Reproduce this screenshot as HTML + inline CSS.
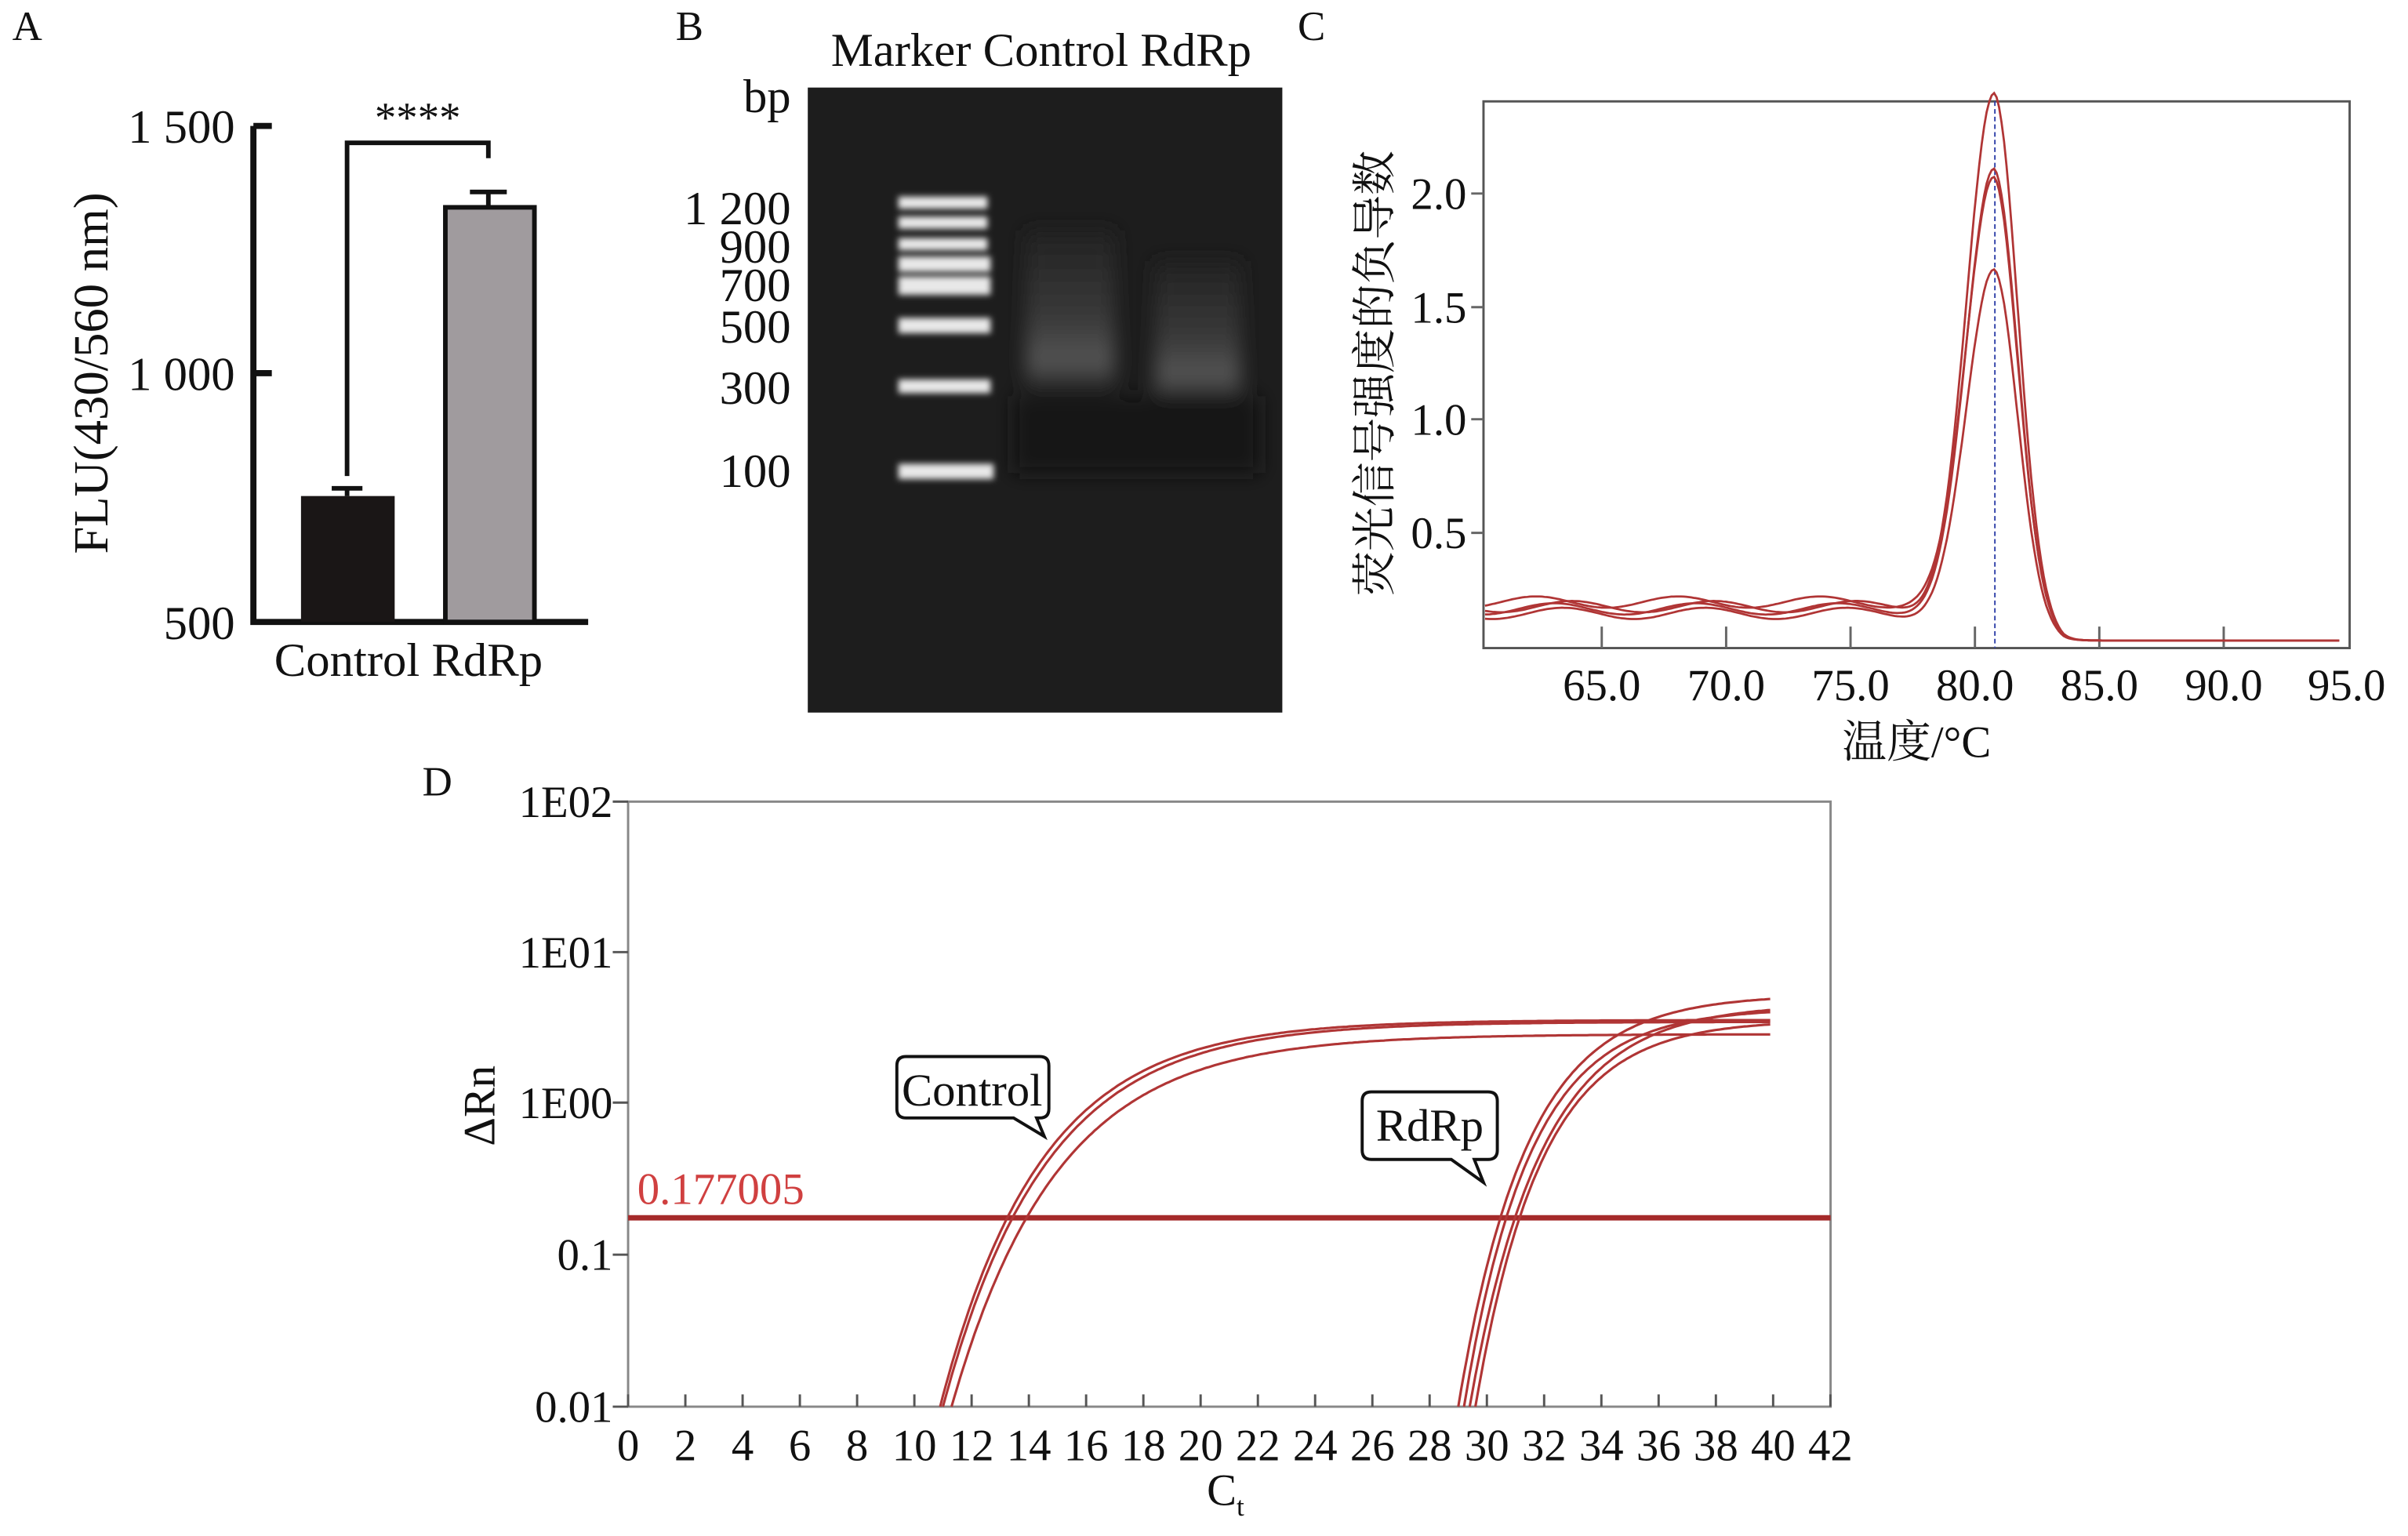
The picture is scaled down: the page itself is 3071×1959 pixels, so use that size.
<!DOCTYPE html>
<html><head><meta charset="utf-8"><style>
html,body{margin:0;padding:0;background:#fff}
svg{display:block}
text{font-family:"Liberation Serif","Noto Serif CJK SC",serif;fill:#111}
</style></head><body>
<svg id="s" width="3071" height="1959" viewBox="0 0 1568 1000.2" xmlns="http://www.w3.org/2000/svg">
<rect width="1568" height="1001" fill="#fff"/>
<defs>
<linearGradient id="sm" x1="0" y1="0" x2="0" y2="1">
<stop offset="0" stop-color="#222"/><stop offset="0.55" stop-color="#3a3a3a"/><stop offset="0.82" stop-color="#555"/><stop offset="1" stop-color="#1c1c1c"/>
</linearGradient>
<filter id="bl"><feGaussianBlur stdDeviation="2"/></filter>
<filter id="bl2"><feGaussianBlur stdDeviation="6"/></filter>
</defs>
<!-- Panel A -->
<text x="8" y="26" font-size="27">A</text>
<g stroke="#111" stroke-width="4" fill="none">
<path d="M165 82 V405 H383"/>
<path d="M165 82 h12 M165 243 h12"/>
</g>
<rect x="196" y="323" width="61" height="82" fill="#1a1616"/>
<path d="M226 323 V318 M216 318 h20" stroke="#111" stroke-width="3"/>
<rect x="290" y="135" width="58" height="270" fill="#a09b9e" stroke="#111" stroke-width="3"/>
<path d="M318 135 V125 M306 125 h24" stroke="#111" stroke-width="3"/>
<path d="M226 310 V93 H318 V103" stroke="#111" stroke-width="3" fill="none"/>
<text x="272" y="86" font-size="28" text-anchor="middle">****</text>
<g font-size="31" text-anchor="end"><text x="153" y="93">1 500</text>
<text x="153" y="254">1 000</text>
<text x="153" y="416">500</text></g>
<text x="266" y="440" font-size="31" text-anchor="middle">Control RdRp</text>
<text transform="translate(70,243) rotate(-90)" font-size="32" text-anchor="middle">FLU(430/560 nm)</text>
<!-- Panel B -->
<text x="440" y="26" font-size="27">B</text>
<text x="678" y="43" font-size="31" text-anchor="middle">Marker Control RdRp</text>
<text x="515" y="73" font-size="31" text-anchor="end">bp</text>
<g font-size="31" text-anchor="end">
<text x="515" y="146">1 200</text><text x="515" y="171">900</text><text x="515" y="196">700</text><text x="515" y="223">500</text><text x="515" y="263">300</text><text x="515" y="317">100</text>
</g>
<rect x="526" y="57" width="309" height="407" fill="#1d1d1d"/>
<g filter="url(#bl2)">
<rect x="668" y="150" width="58" height="105" fill="url(#sm)"/>
<rect x="752" y="170" width="56" height="92" fill="url(#sm)"/>
<rect x="660" y="258" width="160" height="50" fill="#121212"/>
</g>
<g fill="#e8e8e8" filter="url(#bl)">
<rect x="585" y="128" width="58" height="8"/><rect x="585" y="141" width="58" height="8"/><rect x="585" y="155" width="58" height="8"/>
<rect x="585" y="167" width="60" height="10"/><rect x="585" y="180" width="60" height="12"/><rect x="585" y="207" width="60" height="10"/>
<rect x="585" y="247" width="60" height="9"/><rect x="585" y="302" width="62" height="10"/>
</g>
<!-- Panel C -->
<text x="845" y="26" font-size="27">C</text>
<rect x="966" y="66" width="564" height="356" fill="none" stroke="#555" stroke-width="1.5"/>
<g stroke="#666" stroke-width="1.5">
<path d="M966 126h-8M966 200h-8M966 273h-8M966 347h-8"/>
<path d="M1043 422v-14M1124 422v-14M1205 422v-14M1286 422v-14M1367 422v-14M1448 422v-14"/>
</g>
<g font-size="29" text-anchor="end"><text x="955" y="136">2.0</text><text x="955" y="210">1.5</text><text x="955" y="283">1.0</text><text x="955" y="357">0.5</text></g>
<g font-size="29" text-anchor="middle"><text x="1043" y="456">65.0</text><text x="1124" y="456">70.0</text><text x="1205" y="456">75.0</text><text x="1286" y="456">80.0</text><text x="1367" y="456">85.0</text><text x="1448" y="456">90.0</text><text x="1528" y="456">95.0</text></g>
<text x="1248" y="493" font-size="29" text-anchor="middle">温度/°C</text>
<text transform="translate(905,243) rotate(-90)" font-size="29" text-anchor="middle">荧光信号强度的负导数</text>
<line x1="1299" y1="66" x2="1299" y2="422" stroke="#3344aa" stroke-width="1" stroke-dasharray="3,2"/>
<g id="cc" fill="none" stroke="#b03535" stroke-width="1.4"></g>
<!-- Panel D -->
<text x="275" y="518" font-size="27">D</text>
<rect x="409" y="522" width="783" height="394" fill="none" stroke="#888" stroke-width="1.5"/>
<g stroke="#555" stroke-width="1.5"><path d="M409 522h-10M409 620h-10M409 718h-10M409 817h-10M409 916h-10"/></g>
<g id="xt" stroke="#555" stroke-width="1.5"></g>
<g font-size="29" text-anchor="end"><text x="399" y="532">1E02</text><text x="399" y="630">1E01</text><text x="399" y="728">1E00</text><text x="399" y="827">0.1</text><text x="399" y="926">0.01</text></g>
<g id="xl" font-size="29" text-anchor="middle"></g>
<text x="798" y="980" font-size="29" text-anchor="middle">C<tspan font-size="18" dy="7">t</tspan></text>
<text transform="translate(322,720) rotate(-90)" font-size="29" text-anchor="middle">ΔRn</text>
<line x1="409" y1="793" x2="1192" y2="793" stroke="#a52a2a" stroke-width="3.5"/>
<text x="415" y="784" font-size="29" style="fill:#d04040">0.177005</text>
<g id="dc" fill="none" stroke="#b03535" stroke-width="1.6"></g>
<path d="M590 688 H677 Q683 688 683 694 V722 Q683 728 677 728 H675 L680 740 L660 728 H590 Q584 728 584 722 V694 Q584 688 590 688Z" fill="#fff" stroke="#111" stroke-width="2"/>
<text x="633" y="720" font-size="30" text-anchor="middle">Control</text>
<path d="M893 711 H969 Q975 711 975 717 V749 Q975 755 969 755 H960 L966 770 L945 755 H893 Q887 755 887 749 V717 Q887 711 893 711Z" fill="#fff" stroke="#111" stroke-width="2"/>
<text x="931" y="743" font-size="30" text-anchor="middle">RdRp</text>
</svg>
<script>
var NS="http://www.w3.org/2000/svg";
function P(g,d){var p=document.createElementNS(NS,"path");p.setAttribute("d",d);document.getElementById(g).appendChild(p);}
var cx=function(t){return 1043+(t-65)*16.17},cy=function(v){return 420-v*147};
var peaks=[[2.25,0.17,0.5],[1.93,0.16,1.3],[1.88,0.19,2.1],[1.5,0.14,0.9]];
peaks.forEach(function(pk){var d="";for(var t=60.3;t<=94.7;t+=0.1){var s=t<80.8?1.1:0.95;var g=pk[0]*Math.exp(-Math.pow((t-80.8)/s,2)/2);var base=pk[1]+0.025*Math.sin(t*1.1+pk[2]);var w=t<80.8?1:Math.max(0,1-(t-80.8)/2.8);var v=g+base*w+0.02*(1-w);d+=(d?"L":"M")+cx(t).toFixed(1)+" "+cy(v).toFixed(1);}P("cc",d);});
var xl=document.getElementById("xl");
for(var k=0;k<=42;k+=2){var x=409+k*18.64;P("xt","M"+x+" 916v-8");var t=document.createElementNS(NS,"text");t.setAttribute("x",x);t.setAttribute("y",951);t.textContent=k;xl.appendChild(t);}
function dx(c){return 409+c*18.64}function dy(ly){return 916-98.5*(ly+2)}
[[10.9,3.5,3.6],[11.0,3.6,3.5],[11.3,3.7,2.9],[29.0,2.4,5.3],[29.2,2.3,4.3],[29.4,2.5,4.6],[29.6,2.3,3.6]].forEach(function(c){var Lp=Math.log10(c[2]);var d="";for(var x=c[0];x<=40;x+=0.1){var ly=Lp-(Lp+2)*Math.exp(-(x-c[0])/c[1]);d+=(d?"L":"M")+dx(x).toFixed(1)+" "+dy(ly).toFixed(1);}P("dc",d);});
</script>
</body></html>
